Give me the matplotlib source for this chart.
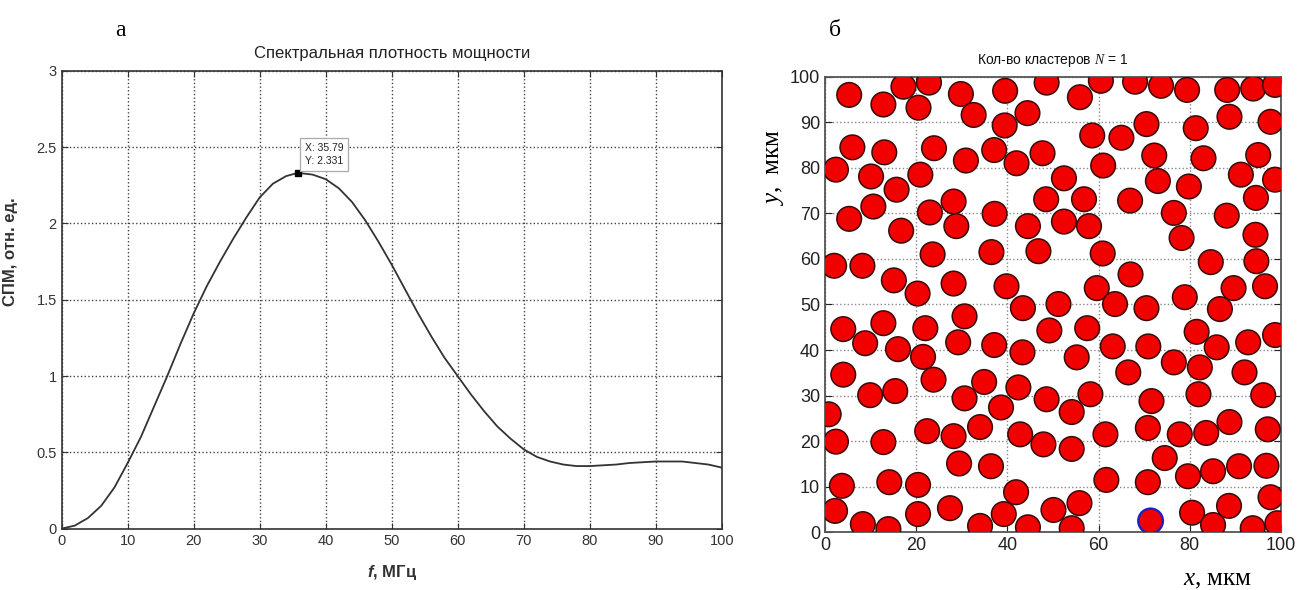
import matplotlib
matplotlib.use("Agg")
import matplotlib.pyplot as plt
from matplotlib.patches import Circle

# --- panel a: spectral power density ---
freq = [0, 2, 4, 6, 8, 10, 12, 14, 16, 18, 20, 22, 24, 26, 28, 30, 32, 34, 35.79,
        38, 40, 42, 44, 46, 48, 50, 52, 54, 56, 58, 60, 62, 64, 66, 68, 70, 72,
        74, 76, 78, 80, 82, 84, 86, 88, 90, 92, 94, 96, 98, 100]
psd = [0, 0.02, 0.07, 0.15, 0.27, 0.43, 0.60, 0.80, 1.00, 1.21, 1.41, 1.59, 1.75,
       1.90, 2.04, 2.17, 2.26, 2.31, 2.331, 2.32, 2.29, 2.23, 2.14, 2.02, 1.88,
       1.73, 1.57, 1.41, 1.26, 1.12, 1.00, 0.88, 0.77, 0.67, 0.59, 0.52, 0.47,
       0.44, 0.42, 0.41, 0.41, 0.415, 0.42, 0.43, 0.435, 0.44, 0.44, 0.44, 0.43,
       0.42, 0.40]
tip_x, tip_y = 35.79, 2.331

# --- panel b: cluster centres (um) ---
red_x = [5.3, 12.8, 17.2, 22.8, 20.5, 29.8, 32.6, 39.5, 39.4, 44.4,
         6.0, 13.0, 23.9, 37.1, 30.9, 42.0, 2.4, 10.1, 20.9, 15.7,
         10.6, 5.3, 23.0, 28.2, 28.8, 16.7, 37.2, 44.5,
         2.0, 8.2, 23.6, 36.5, 15.1, 28.2, 39.8, 20.3,
         48.6, 60.5, 68.0, 73.7, 79.4, 88.2, 93.9, 98.7, 55.9,
         70.5, 81.3, 88.7, 97.7, 58.6, 65.0, 47.7, 61.0, 72.2, 83.0, 95.0, 91.2, 98.7,
         52.4, 73.0, 79.8, 94.5, 48.5, 56.8, 66.9, 76.5, 88.1, 52.4, 57.9, 78.2, 94.4,
         46.8, 60.9, 84.6, 94.6, 67.0, 59.6, 89.6, 96.5,
         43.4, 4.0, 12.8, 8.8, 16.0, 22.0, 21.5, 30.6, 29.2, 37.1, 43.3,
         4.0, 9.9, 15.4, 23.8, 30.6, 34.9, 42.4, 38.6,
         0.8, 2.4, 12.8, 22.4, 28.2, 34.0, 42.8, 29.4, 36.4,
         3.7, 14.1, 20.4, 41.9, 2.2, 8.3, 13.9, 20.4, 27.4, 34.0, 39.2, 44.5,
         63.6, 70.5, 78.9, 86.6, 51.2,
         49.2, 57.5, 63.1, 70.9, 55.2, 66.5, 76.5, 82.2, 85.9, 92.8, 98.7, 92.0, 81.5,
         48.6, 58.2, 54.1, 71.6, 81.9, 96.1,
         47.9, 54.1, 61.5, 70.8, 77.8, 83.6, 88.7, 97.1,
         74.5, 79.6, 85.1, 90.8, 96.8, 61.7, 70.8,
         50.1, 55.8, 54.1, 80.5, 85.1, 88.6, 93.8, 97.7, 99.2]
red_y = [96.0, 93.9, 97.8, 98.7, 93.2, 96.2, 91.6, 96.9, 89.3, 92.0,
         84.5, 83.4, 84.3, 83.9, 81.6, 81.0, 79.6, 78.1, 78.5, 75.2,
         71.5, 68.8, 70.2, 72.6, 67.2, 66.2, 69.9, 67.2,
         58.5, 58.5, 61.0, 61.5, 55.3, 54.6, 54.0, 52.4,
         98.7, 99.1, 98.9, 98.0, 97.1, 97.1, 97.4, 98.2, 95.5,
         89.6, 88.7, 91.2, 90.1, 87.1, 86.6, 83.2, 80.5, 82.7, 82.1, 82.8, 78.5, 77.4,
         77.7, 77.1, 75.9, 73.4, 73.1, 73.1, 72.8, 70.1, 69.5, 68.2, 67.2, 64.6, 65.3,
         61.7, 61.2, 59.3, 59.5, 56.6, 53.6, 53.6, 54.0,
         49.2, 44.6, 45.9, 41.5, 40.2, 44.8, 38.5, 47.4, 41.7, 41.1, 39.5,
         34.6, 30.1, 31.0, 33.5, 29.4, 33.0, 31.8, 27.4,
         25.9, 19.9, 19.8, 22.2, 21.1, 23.1, 21.5, 15.1, 14.5,
         10.2, 11.0, 10.4, 8.8, 4.7, 1.8, 0.7, 4.0, 5.3, 1.4, 4.0, 1.1,
         50.1, 49.2, 51.6, 49.0, 50.1,
         44.3, 44.8, 40.8, 40.8, 38.4, 35.1, 37.3, 36.2, 40.6, 41.7, 43.3, 35.1, 44.0,
         29.2, 30.3, 26.4, 28.8, 30.3, 30.1,
         19.3, 18.3, 21.5, 22.9, 21.5, 21.8, 24.2, 22.6,
         16.3, 12.3, 13.4, 14.5, 14.6, 11.5, 11.0,
         4.9, 6.4, 0.9, 4.3, 1.6, 5.8, 0.9, 7.7, 2.0]
blue_x, blue_y = [71.4], [2.5]
radius = 2.7

sans = ["Liberation Sans", "DejaVu Sans"]
serif = ["Liberation Serif", "DejaVu Serif"]
plt.rcParams["font.family"] = sans
plt.rcParams["mathtext.fontset"] = "custom"
plt.rcParams["mathtext.it"] = "Liberation Serif:italic"
plt.rcParams["mathtext.rm"] = "Liberation Serif"
plt.rcParams["mathtext.bfit"] = "Liberation Sans:italic:bold"

fig = plt.figure(figsize=(12.98, 5.90), dpi=100)

# ---------- a ----------
ax1 = fig.add_axes([0.0475, 0.104, 0.5085, 0.776])
ax1.plot(freq, psd, color="#333333", lw=1.3)
ax1.plot([tip_x], [tip_y], marker="s", color="black", ms=5)
ax1.annotate("X: %.2f\nY: %.3f" % (tip_x, tip_y), xy=(tip_x, tip_y),
             xytext=(5, 5), textcoords="offset points", ha="left", va="bottom",
             fontsize=7.5, color="#222222", linespacing=1.35,
             bbox=dict(boxstyle="square,pad=0.45", fc="white", ec="#aaaaaa", lw=0.9))
ax1.set_xlim(0, 100)
ax1.set_ylim(0, 3)
ax1.set_xticks(range(0, 101, 10))
ax1.set_yticks([0, 0.5, 1, 1.5, 2, 2.5, 3])
ax1.set_yticklabels(["0", "0.5", "1", "1.5", "2", "2.5", "3"])
ax1.grid(True, linestyle=":", color="#444444", lw=1.0)
ax1.tick_params(direction="in", labelsize=10.5, colors="#333333", length=4,
                top=True, right=True)
for s in ax1.spines.values():
    s.set_color("#333333")
    s.set_linewidth(1.2)
ax1.set_title("Спектральная плотность мощности", fontsize=12, color="#222222", pad=9)
ax1.set_ylabel("СПМ, отн. ед.", fontsize=12, fontweight="bold", color="#333333")
ax1.yaxis.set_label_coords(-0.066, 0.605)
ax1.set_xlabel(r"$\mathbfit{f}$, МГц", fontsize=12, fontweight="bold", color="#333333")
ax1.xaxis.set_label_coords(0.5, -0.075)
fig.text(120 / 1298, 1 - 30 / 590, "а", fontsize=17, family=serif, ha="center", va="center")

# ---------- б ----------
ax2 = fig.add_axes([0.6356, 0.0978, 0.3513, 0.7722])
for x, y in zip(red_x, red_y):
    ax2.add_patch(Circle((x, y), radius, fc="#f20000", ec="#3a0a0a", lw=1.1, zorder=3))
for x, y in zip(blue_x, blue_y):
    ax2.add_patch(Circle((x, y), radius, fc="#f20000", ec="#2020c0", lw=1.7, zorder=3))
ax2.set_xlim(0, 100)
ax2.set_ylim(0, 100)
ax2.set_xticks(range(0, 101, 20))
ax2.set_yticks(range(0, 101, 10))
ax2.grid(True, linestyle=":", color="#888888", lw=1.0, zorder=0)
ax2.set_axisbelow(True)
ax2.tick_params(direction="in", labelsize=13, colors="#222222", length=5,
                top=True, right=True)
for s in ax2.spines.values():
    s.set_color("#555555")
    s.set_linewidth(1.3)
ax2.set_title("Кол-во кластеров $N$ = 1", fontsize=10, color="#111111", pad=9)
ax2.text(-0.11, 0.80, "$y$,  мкм", transform=ax2.transAxes, rotation=90,
         fontsize=18, family=serif, ha="center", va="center")
ax2.text(0.86, -0.105, "$x$, мкм", transform=ax2.transAxes,
         fontsize=18, family=serif, ha="center", va="center")
fig.text(835 / 1298, 1 - 30 / 590, "б", fontsize=17, family=serif, ha="center", va="center")

fig.savefig("out.png", dpi=100)
